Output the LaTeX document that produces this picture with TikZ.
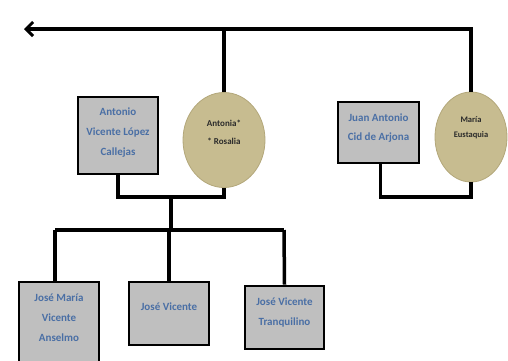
\documentclass[tikz,border=0pt]{standalone}
\usepackage{fontspec}
\setmainfont{Carlito}
\usetikzlibrary{arrows.meta,shapes.geometric}
\definecolor{boxfill}{HTML}{BFBFBF}
\definecolor{boxtext}{HTML}{4A6FA5}
\definecolor{ellfill}{HTML}{C7BC90}
\definecolor{ellline}{HTML}{B3A77A}
\definecolor{elltext}{HTML}{2A2A2A}
\tikzset{
  person/.style={draw=black, line width=2.6pt, fill=boxfill, rectangle, inner sep=0pt},
  wife/.style={draw=ellline, line width=0.8pt, fill=ellfill, ellipse, inner sep=0pt},
  btxt/.style={text=boxtext, font=\bfseries\fontsize{11}{20}\selectfont, align=center, inner sep=0pt},
  etxt/.style={text=elltext, font=\bfseries\fontsize{9}{18}\selectfont, align=center, inner sep=0pt},
  link/.style={draw=black, line width=3.5pt}
}
\begin{document}
\begin{tikzpicture}[x=1pt,y=-1pt]
\useasboundingbox (0,0) rectangle (508,360);
\begin{scope}
\clip (0,0) rectangle (508,360);
% parents
\node[person, minimum width=80pt, minimum height=77pt] (b1) at (118,135.5) {};
\node[wife, minimum width=82pt, minimum height=95pt] (e1) at (224,140) {};
\node[person, minimum width=81pt, minimum height=61pt] (b2) at (378.5,132.5) {};
\node[wife, minimum width=72pt, minimum height=90pt] (e2) at (471,137) {};
% children
\node[person, minimum width=80pt, minimum height=82pt] (c1) at (59,323) {};
\node[person, minimum width=80pt, minimum height=63pt] (c2) at (169,313.5) {};
\node[person, minimum width=79pt, minimum height=63pt] (c3) at (284.5,317.5) {};
% texts
\node[btxt] (t1) at (118,133) {Antonio\\Vicente López\\Callejas};
\node[etxt] (t2) at (224,132.5) {Antonia*\\* Rosalia};
\node[btxt, font=\bfseries\fontsize{11}{19}\selectfont] (t3) at (378.5,128) {Juan Antonio\\Cid de Arjona};
\node[etxt, font=\bfseries\fontsize{8.5}{15}\selectfont] (t4) at (471,127.5) {María\\Eustaquia};
\node[btxt] (t5) at (59,318) {José María\\Vicente\\Anselmo};
\node[btxt] (t6) at (169,307) {José Vicente};
\node[btxt] (t7) at (284.5,312) {José Vicente\\Tranquilino};
% connector coordinates
\coordinate (arrowend) at (24,29);
\coordinate (topright) at (471,29);
\coordinate (topmid) at (224,29);
\coordinate (j1) at (171,197);
\coordinate (j2) at (171,230);
\coordinate (j3) at (55,230);
\coordinate (j4) at (284,230);
\end{scope}
% top line with arrow
\draw[link, -{Straight Barb[length=7pt,width=14pt,line width=3pt]}] (e2.north) -- (topright) -- (arrowend);
\draw[link] (topmid) -- (e1.north);
% couples
\draw[link] (b1.south) -- (b1.south |- j1) -- (e1.south |- j1) -- (e1.south);
\draw[link] ([xshift=2pt]b2.south) -- ([xshift=2pt]b2.south |- j1) -- (e2.south |- j1) -- (e2.south);
% children
\draw[link] (j1) -- (j2);
\draw[link] (j3) -- (j4);
\draw[link] (j3) -- (j3 |- c1.north);
\draw[link] (c2.north |- j2) -- (c2.north);
\draw[link] (j4) -- (c3.north);
\end{tikzpicture}
\end{document}
